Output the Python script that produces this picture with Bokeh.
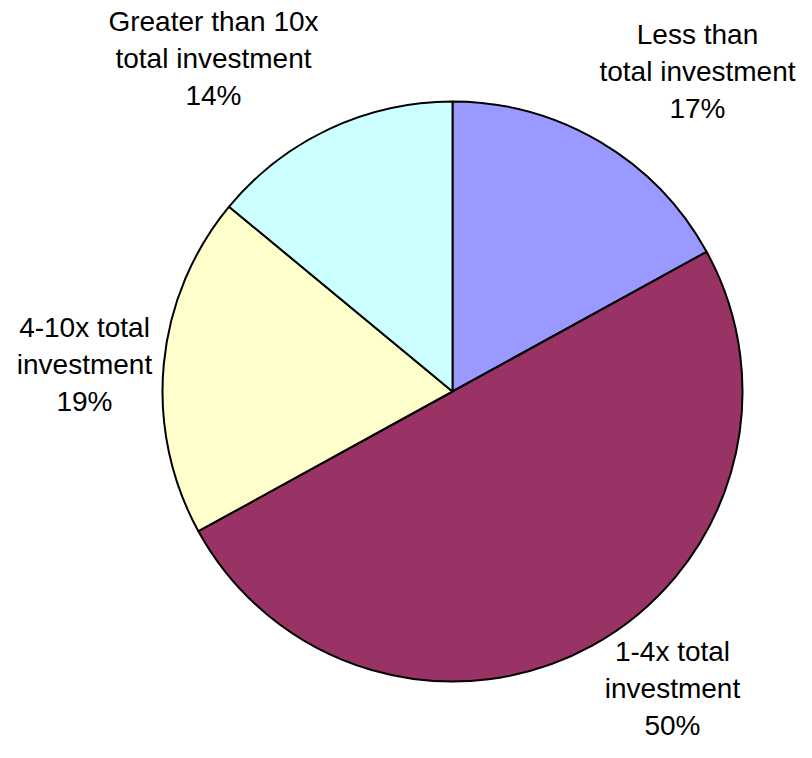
import numpy as np
from bokeh.plotting import figure
from bokeh.models import Range1d, ColumnDataSource
from bokeh.core.properties import value
from bokeh.embed import file_html
from bokeh.resources import INLINE

# ---- data ----
categories = ["Less than total investment", "1-4x total investment",
              "4-10x total investment", "Greater than 10x total investment"]
shares = [17, 50, 19, 14]
label_lines = [["Less than", "total investment"],
               ["1-4x total", "investment"],
               ["4-10x total", "investment"],
               ["Greater than 10x", "total investment"]]
colors = ["#9999FF", "#993366", "#FFFFCC", "#CCFFFF"]

# ---- layout (pixels in picture coords) ----
W, H = 796, 742
CX, CY, R = 452, 391, 290          # pie centre / radius
TEXT_SHIFT = -10                   # compensate for rendered baseline offset
label_anchor = [(697, 44), (672, 661), (84, 337), (213, 31)]  # centre x, first baseline
line_step = 37

def dx(px):
    return (px - CX) / R

def dy(py):
    return (CY - py) / R

p = figure(width=W, height=H, output_backend="svg", toolbar_location=None,
           x_range=Range1d(dx(0), dx(W)), y_range=Range1d(dy(H), dy(0)),
           min_border=0)
p.axis.visible = False
p.grid.visible = False
p.outline_line_color = None
p.background_fill_color = "white"
p.border_fill_color = "white"

frac = np.array(shares, dtype=float) / sum(shares)
cum = np.concatenate([[0], np.cumsum(frac)])
start = np.pi / 2 - 2 * np.pi * cum[:-1]
end = np.pi / 2 - 2 * np.pi * cum[1:]

src = ColumnDataSource(dict(x=[0] * len(shares), y=[0] * len(shares),
                            start=start, end=end, color=colors, cat=categories))
p.wedge(x="x", y="y", radius=1, start_angle="start", end_angle="end",
        direction="clock", fill_color="color", line_color="black",
        line_width=2, source=src)

tx, ty, tt = [], [], []
for lines, share, (ax, ay) in zip(label_lines, shares, label_anchor):
    all_lines = lines + [f"{share}%"]
    for k, t in enumerate(all_lines):
        tx.append(dx(ax))
        ty.append(dy(ay + TEXT_SHIFT + k * line_step))
        tt.append(t)

p.text(x=tx, y=ty, text=tt, text_font=value("Liberation Sans"),
       text_font_size="28px", text_align="center", text_baseline="alphabetic",
       text_color="black")

open("out.html", "w").write(file_html(p, INLINE))
